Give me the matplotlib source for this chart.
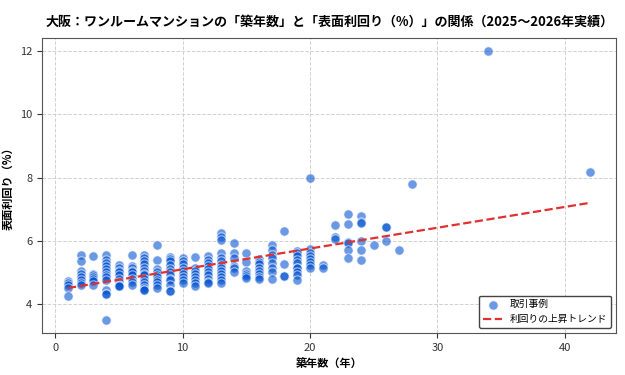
import matplotlib
matplotlib.use('Agg')
import matplotlib.pyplot as plt
import numpy as np

plt.rcParams['font.family'] = ['Noto Sans CJK JP', 'DejaVu Sans']

# 築年数ごとの表面利回り（%）
yields_by_age = {
    1: [4.72, 4.65, 4.58, 4.50, 4.26],
    2: [5.55, 5.35, 5.05, 4.95, 4.85, 4.75, 4.65, 4.60],
    3: [5.53, 4.95, 4.90, 4.85, 4.80, 4.72, 4.60],
    4: [5.55, 5.40, 5.30, 5.20, 5.10, 5.00, 4.90, 4.85, 4.75, 4.45, 4.32, 4.30, 3.50],
    5: [5.22, 5.15, 5.05, 5.00, 4.90, 4.80, 4.70, 4.60, 4.55, 4.55],
    6: [5.56, 5.20, 5.12, 5.05, 5.00, 4.90, 4.80, 4.70, 4.60],
    7: [5.55, 5.45, 5.35, 5.25, 5.15, 5.05, 4.95, 4.90, 4.80, 4.70, 4.60, 4.50, 4.45, 4.45],
    8: [5.87, 5.40, 5.10, 5.00, 4.92, 4.85, 4.75, 4.70, 4.60, 4.50],
    9: [5.48, 5.42, 5.35, 5.22, 5.10, 5.00, 4.90, 4.80, 4.75, 4.60, 4.40, 4.40],
    10: [5.45, 5.35, 5.25, 5.15, 5.05, 4.95, 4.85, 4.75, 4.65],
    11: [5.48, 5.15, 5.05, 4.95, 4.85, 4.75, 4.65, 4.57],
    12: [5.50, 5.40, 5.30, 5.20, 5.10, 5.00, 4.90, 4.80, 4.70, 4.65],
    13: [6.25, 6.12, 6.02, 5.60, 5.45, 5.35, 5.22, 5.12, 5.05, 4.95, 4.85, 4.75, 4.65],
    14: [5.93, 5.62, 5.45, 5.20, 5.15, 5.02],
    15: [5.60, 5.32, 5.05, 4.95, 4.88, 4.82],
    16: [5.42, 5.32, 5.25, 5.15, 5.05, 4.95, 4.85, 4.78],
    17: [5.85, 5.70, 5.55, 5.45, 5.30, 5.15, 5.00, 4.80],
    18: [6.30, 5.25, 4.88, 4.88],
    19: [5.68, 5.60, 5.50, 5.40, 5.30, 5.15, 5.15, 5.00, 4.90, 4.75],
    20: [7.98, 5.75, 5.62, 5.52, 5.42, 5.32, 5.22, 5.15],
    21: [5.22, 5.14],
    22: [6.50, 6.12, 6.05],
    23: [6.83, 6.52, 5.95, 5.92, 5.70, 5.45],
    24: [6.78, 6.58, 6.55, 6.00, 5.70, 5.40],
    25: [5.85],
    26: [6.43, 6.42, 6.00],
    27: [5.72],
    28: [7.80],
    34: [12.00],
    42: [8.18],
}

# 上昇トレンド（両端）
trend_x = [1, 42]
trend_y = [4.50, 7.20]

ages = []
yields = []
for age, vals in yields_by_age.items():
    ages += [age] * len(vals)
    yields += vals

fig, ax = plt.subplots(figsize=(6.25, 3.75), dpi=100)
fig.subplots_adjust(left=0.067, right=0.986, top=0.899, bottom=0.112)

ax.scatter(ages, yields, s=45, color='#0050d0', alpha=0.58,
           edgecolors='white', linewidths=0.8, label='取引事例', zorder=3)
ax.plot(trend_x, trend_y, color='#e03030', linestyle='--', linewidth=1.6,
        label='利回りの上昇トレンド', zorder=4)

ax.set_title('大阪：ワンルームマンションの「築年数」と「表面利回り（%）」の関係（2025〜2026年実績）',
             fontsize=9.4, fontweight='bold', pad=9)
ax.set_xlabel('築年数（年）', fontsize=8, fontweight='bold')
ax.set_ylabel('表面利回り（%）', fontsize=8, fontweight='bold')

ax.set_xticks([0, 10, 20, 30, 40])
ax.set_yticks([4, 6, 8, 10, 12])
ax.tick_params(labelsize=8, colors='#333333')
ax.grid(True, linestyle='--', color='#cccccc', linewidth=0.7, alpha=0.9)
for sp in ax.spines.values():
    sp.set_color('#555555')

leg = ax.legend(loc='lower right', fontsize=7, framealpha=1)
leg.get_frame().set_edgecolor('#444444')

plt.savefig('out.png', dpi=100)
